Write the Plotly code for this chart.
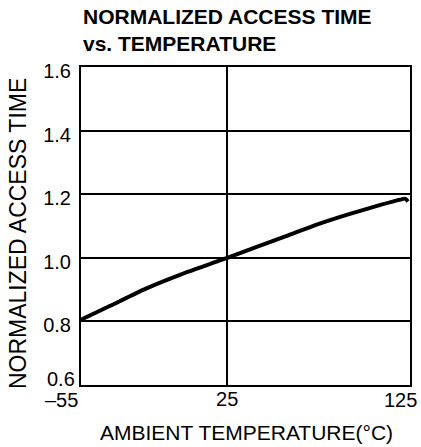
import plotly.graph_objects as go

# Data
temperature_c = [-55, -39, -19.5, -0.2, 19.2, 25, 41.5, 57.2, 74.4, 92.1, 109.3, 119.7, 122.3, 123.9]
normalized_access_time = [0.805, 0.849, 0.903, 0.948, 0.988, 1.0, 1.035, 1.068, 1.105, 1.138, 1.167, 1.183, 1.186, 1.177]

x_ticks = [-55, 25, 125]
x_tick_labels = ["\u201355", "25", "125"]
y_ticks = [0.6, 0.8, 1.0, 1.2, 1.4, 1.6]
y_tick_labels = ["0.6", "0.8", "1.0", "1.2", "1.4", "1.6"]

title_lines = ["NORMALIZED ACCESS TIME", "vs. TEMPERATURE"]
x_title = "AMBIENT TEMPERATURE(\u00b0C)"
y_title = "NORMALIZED ACCESS TIME"

FONT = "Liberation Sans, Arial, sans-serif"
TICK_FONT = dict(size=20, family=FONT, color="black")

fig = go.Figure()
fig.add_trace(go.Scatter(
    x=temperature_c, y=normalized_access_time, mode="lines",
    line=dict(color="black", width=4, shape="spline", smoothing=0.6),
    hoverinfo="skip", showlegend=False,
))

fig.update_layout(
    width=421, height=447,
    margin=dict(l=81, r=11, t=67, b=62, autoexpand=False),
    paper_bgcolor="white", plot_bgcolor="white",
    font=dict(family=FONT, color="black", size=20),
    showlegend=False,
)

# Interior tick labels drawn by the axes; the edge labels (which the
# reference nudges inward) are placed as annotations at their tick values.
fig.update_xaxes(
    range=[-55, 125], tickvals=x_ticks,
    ticktext=[t if v not in (x_ticks[0], x_ticks[-1]) else "" for v, t in zip(x_ticks, x_tick_labels)],
    showline=True, mirror=True, linecolor="black", linewidth=2,
    showgrid=True, gridcolor="black", gridwidth=2,
    zeroline=False, ticks="", ticklabelstandoff=-5, automargin=False,
    tickfont=TICK_FONT,
)
fig.update_yaxes(
    range=[0.6, 1.6], tickvals=y_ticks,
    ticktext=["" if v == y_ticks[0] else t for v, t in zip(y_ticks, y_tick_labels)],
    showline=True, mirror=True, linecolor="black", linewidth=2,
    showgrid=True, gridcolor="black", gridwidth=2,
    zeroline=False, ticks="", ticklabelstandoff=4, ticklabelshift=4,
    automargin=False, ticklabeloverflow="allow",
    tickfont=TICK_FONT,
)

# edge x tick labels
fig.add_annotation(text=x_tick_labels[0], xref="x", yref="paper", x=x_ticks[0], y=0,
                   xanchor="right", yanchor="middle", xshift=-2, yshift=-15, borderpad=0,
                   showarrow=False, font=TICK_FONT)
fig.add_annotation(text=x_tick_labels[-1], xref="x", yref="paper", x=x_ticks[-1], y=0,
                   xanchor="right", yanchor="middle", xshift=8, yshift=-15, borderpad=0,
                   showarrow=False, font=TICK_FONT)
# bottom y tick label, lifted above its grid line as in the reference
fig.add_annotation(text=y_tick_labels[0], xref="paper", yref="y", x=0, y=y_ticks[0],
                   xanchor="right", yanchor="middle", xshift=-5, yshift=6, borderpad=0,
                   showarrow=False, font=TICK_FONT)

fig.add_annotation(
    text="<br>".join("<b>" + t + "</b>" for t in title_lines),
    xref="paper", yref="paper", x=0, y=1.03, xanchor="left", yanchor="bottom",
    align="left", showarrow=False,
    font=dict(family=FONT, size=21, color="black"),
)
fig.add_annotation(
    text=x_title, xref="paper", yref="paper", x=0.503, y=-0.15,
    xanchor="center", yanchor="middle", showarrow=False,
    font=dict(family=FONT, size=21, color="black"),
)
fig.add_annotation(
    text=y_title, xref="paper", yref="paper", x=-0.191, y=0.475,
    xanchor="center", yanchor="middle", textangle=-90, showarrow=False,
    font=dict(family=FONT, size=23, color="black"),
)

fig.write_html("out.html", config={"displayModeBar": False},
               post_script="document.body.style.margin='0px';")
